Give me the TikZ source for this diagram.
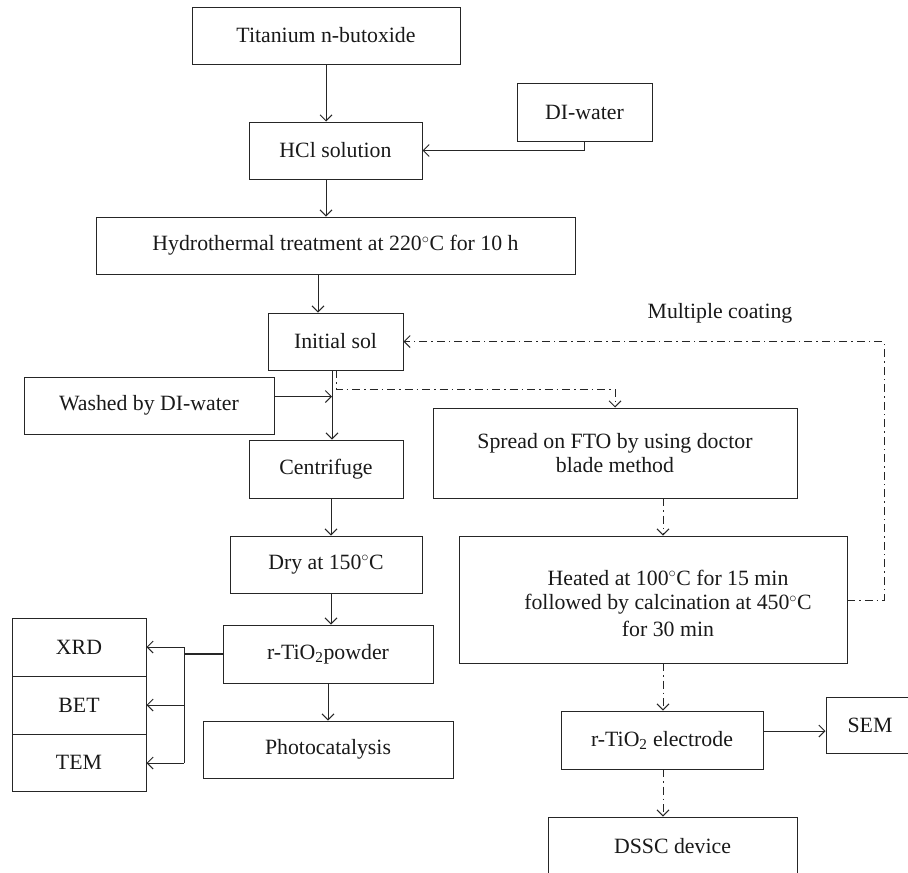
\documentclass[tikz,border=0pt]{standalone}
\usepackage{fontspec}
\setmainfont{Liberation Serif}
\usetikzlibrary{arrows.meta}
\begin{document}
\begin{tikzpicture}[x=1pt,y=-1pt,
  box/.style={draw=black!85, line width=1pt, inner sep=0pt, text=black!90, font=\fontsize{21.8}{24.5}\selectfont, align=center},
  lbl/.style={text=black!90, font=\fontsize{21.8}{24.5}\selectfont, align=center, inner sep=0pt},
  arr/.style={draw=black!85, line width=1pt, -{Straight Barb[length=6pt,width=12pt]}},
  dd/.style={arr, dash pattern=on 8pt off 4pt on 1.5pt off 4pt},
  ln/.style={draw=black!85, line width=1pt},
  ]
\useasboundingbox (0,0) rectangle (908,873);
\clip (0,0) rectangle (908,873);
% left column
\node[box, minimum width=268pt, minimum height=57pt] (tb) at (326,35.5) {Titanium n-butoxide};
\node[box, minimum width=135pt, minimum height=58pt] (diw) at (584.5,112) {DI-water};
\node[box, minimum width=173pt, minimum height=57pt] (hcl) at (335.5,150.5) {HCl solution};
\node[box, minimum width=479pt, minimum height=57pt] (hyd) at (335.5,245.5) {Hydrothermal treatment at 220$^{\circ}$C for 10 h};
\node[box, minimum width=135pt, minimum height=57pt] (init) at (335.5,341.5) {Initial sol};
\node[box, minimum width=250pt, minimum height=57pt] (wash) at (149,405.5) {Washed by DI-water};
\node[box, minimum width=154pt, minimum height=58pt] (cen) at (326,469) {Centrifuge};
\node[box, minimum width=192pt, minimum height=57pt] (dry) at (326,564.5) {Dry at 150$^{\circ}$C};
\node[box, minimum width=210pt, minimum height=58pt] (pow) at (328,654) {r-TiO\textsubscript{2}powder};
\node[box, minimum width=250pt, minimum height=57pt] (photo) at (328,749.5) {Photocatalysis};
\node[box, minimum width=134pt, minimum height=58pt] (xrd) at (79,647) {XRD};
\node[box, minimum width=134pt, minimum height=58pt] (bet) at (79,705) {BET};
\node[box, minimum width=134pt, minimum height=57pt] (tem) at (79,762.5) {TEM};
% right column
\node[box, minimum width=364pt, minimum height=90pt] (spread) at (615,453) {Spread on FTO by using doctor\\blade method};
\node[box, minimum width=388pt, minimum height=127pt] (heat) at (653,599.5) {};
\node[lbl] (heattxt) at (668,603) {Heated at 100$^{\circ}$C for 15 min\\followed by calcination at 450$^{\circ}$C\\[2pt]for 30 min};
\node[box, minimum width=202pt, minimum height=58pt] (elec) at (662,740) {r-TiO\textsubscript{2} electrode};
\node[box, minimum width=88pt, minimum height=56pt] (sem) at (870,725) {SEM};
\node[box, minimum width=249pt, minimum height=58pt] (dssc) at (672.5,846) {DSSC device};
\node[lbl] (mc) at (720,313) {Multiple coating};

% solid connectors
\draw[arr] (tb.south) -- (tb.south |- hcl.north);
\draw[arr] (diw.south) |- (hcl.east);
\draw[arr] (tb.south |- hcl.south) -- (tb.south |- hyd.north);
\coordinate (h1) at (318,274);
\draw[arr] (h1) -- (h1 |- init.north);
\coordinate (i1) at (332,370);
\draw[arr] (i1) -- (i1 |- cen.north);
\coordinate (w1) at (274,396.5);
\draw[arr] (w1) -- (332,396.5);
\coordinate (c1) at (331,498);
\draw[arr] (c1) -- (c1 |- dry.north);
\coordinate (d1) at (331,593);
\draw[arr] (d1) -- (d1 |- pow.north);
\draw[arr] (pow.south) -- (photo.north);
\coordinate (p1) at (184,654);
\draw[ln, line width=1.6pt] (pow.west) -- (p1);
\draw[ln] (184,647) -- (184,763);
\draw[arr] (184,647) -- (xrd.east |- 0,647);
\draw[arr] (184,705) -- (bet.east);
\draw[arr] (184,763) -- (tem.east |- 0,763);
\coordinate (e1) at (763,731);
\draw[arr] (e1) -- (sem.west |- e1);

% dash-dot connectors
\coordinate (i2) at (336,370);
\draw[dd] (i2) -- (336,389) -| (spread.north);
\coordinate (s1) at (663,498);
\draw[dd] (s1) -- (s1 |- heat.north);
\coordinate (s2) at (663,663);
\draw[dd] (s2) -- (s2 |- elec.north);
\coordinate (s3) at (663,769);
\draw[dd] (s3) -- (s3 |- dssc.north);
\coordinate (hr) at (847,600);
\draw[dd] (hr) -- (884,600) -- (884,341.5) -- (init.east);
\end{tikzpicture}
\end{document}
